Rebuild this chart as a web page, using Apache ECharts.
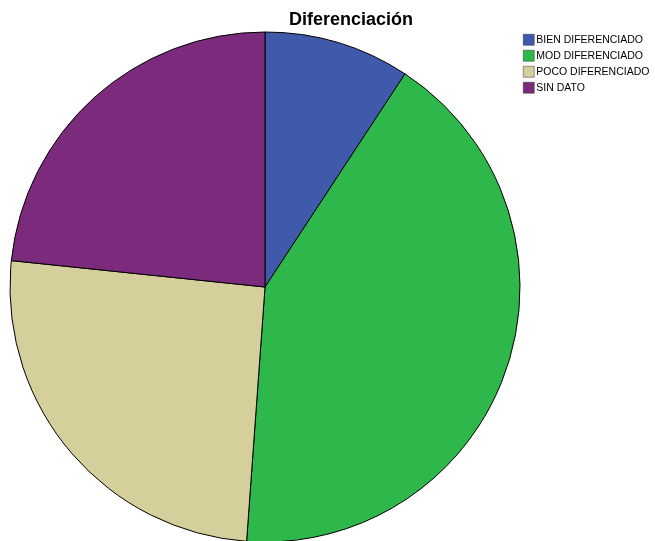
<!DOCTYPE html>
<html><head><meta charset="utf-8">
<script src="https://cdn.jsdelivr.net/npm/echarts@6/dist/echarts.min.js"></script>
<style>html,body{margin:0;padding:0;background:#fff}#c{width:655px;height:541px}</style>
</head><body><div id="c"></div>
<script>
const categories = ["BIEN DIFERENCIADO","MOD DIFERENCIADO","POCO DIFERENCIADO","SIN DATO"];
const values = [9.25, 41.9, 25.5, 23.35];
const colors = ["#3f5aab","#2eb84b","#d4cf9b","#7c2a7c"];
const chart = echarts.init(document.getElementById('c'));
chart.setOption({
  animation:false,
  title:{text:"Diferenciación",left:351,top:11,textAlign:'center',padding:0,
    textStyle:{fontFamily:'Liberation Sans, Arial',fontSize:18,fontWeight:'bold',color:'#000'}},
  legend:{orient:'vertical',left:523,top:34,padding:0,itemWidth:11,itemHeight:11,itemGap:4.5,
    icon:'rect',textStyle:{fontFamily:'Liberation Sans, Arial',fontSize:10.5,color:'#000',padding:[0,0,0,-3]},
    itemStyle:{borderColor:'#333',borderWidth:0.5},
    data:categories},
  series:[{type:'pie',center:[265,287],radius:[0,255],startAngle:90,clockwise:true,
    label:{show:false},labelLine:{show:false},
    itemStyle:{borderColor:'#000',borderWidth:1},
    emphasis:{disabled:true},
    data:categories.map((n,i)=>({name:n,value:values[i],itemStyle:{color:colors[i]}}))}]
});
</script></body></html>
